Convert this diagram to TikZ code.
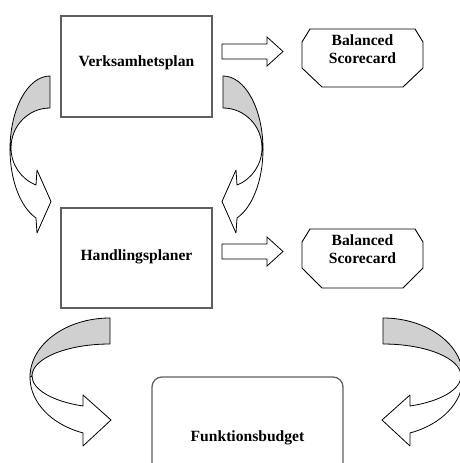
\documentclass[tikz,border=0pt]{standalone}
\usepackage{fontspec}
\setmainfont{Liberation Serif}
\definecolor{boxline}{RGB}{95,95,95}
\definecolor{backside}{RGB}{208,208,208}

% Curling ribbon arrow, tail at the upper right, head pointing right below it
\newcommand{\curlupper}{%
  \draw[band, fill=backside] (50,76)
    arc[start angle=270, end angle=180, x radius=40, y radius=73.3]
    -- (11,147.8)
    arc[start angle=180, end angle=270, x radius=39, y radius=39.8] -- cycle;
  \draw[band, fill=white] (10,149.3)
    arc[start angle=180, end angle=110.5, x radius=40, y radius=73.3]
    -- (37,233) -- (51,201.5) -- (37,170) -- (36,185)
    arc[start angle=111.04, end angle=180, x radius=39, y radius=39.8] -- cycle;
}
\newcommand{\curllower}{%
  \draw[band, fill=backside] (110,318)
    arc[start angle=270, end angle=180, x radius=80, y radius=59.2]
    -- (32,376)
    arc[start angle=180, end angle=270, x radius=78, y radius=32] -- cycle;
  \draw[band, fill=white] (30,377.2)
    arc[start angle=180, end angle=109.7, x radius=80, y radius=59.2]
    -- (83,446) -- (111,420) -- (83,395) -- (83,406)
    arc[start angle=110.25, end angle=180, x radius=78, y radius=32] -- cycle;
}

\begin{document}
\begin{tikzpicture}[x=1pt, y=-1pt,
  box/.style={draw=boxline, line width=1.3pt, inner sep=0pt},
  txt/.style={font=\fontsize{15.6}{18.3}\selectfont\bfseries, align=center, inner sep=0pt},
  octo/.style={draw=black, line width=0.9pt},
  band/.style={draw=black, line width=0.8pt, line join=round},
  blockarrow/.style={draw=black, line width=0.8pt, fill=white, line join=miter}]

\useasboundingbox (0,0) rectangle (460,463);
\clip (0,0) rectangle (460,463);

% plan boxes
\node[box, minimum width=151pt, minimum height=101pt] (vp) at (136.5,66.5) {};
\node[txt] (vptext) at (136.5,63) {Verksamhetsplan};
\node[box, minimum width=151pt, minimum height=100pt] (hp) at (136.5,258) {};
\node[txt] (hptext) at (136.5,256.5) {Handlingsplaner};

% budget box, running past the lower edge
\draw[box, rounded corners=10pt] (152,377) rectangle (343,520);
\node[txt] (fb) at (247.5,437.5) {Funktionsbudget};

% scorecard octagons
\draw[octo] (310,29) -- (415,29) -- (423,42) -- (423,68) -- (403,87)
  -- (322,87) -- (302,68) -- (302,42) -- cycle;
\node[txt] (bs1) at (362.5,49) {Balanced\\Scorecard};
\draw[octo] (310,229) -- (415,229) -- (423,242) -- (423,268) -- (403,288)
  -- (322,288) -- (302,268) -- (302,242) -- cycle;
\node[txt] (bs2) at (362.5,249) {Balanced\\Scorecard};

% straight block arrows
\draw[blockarrow] (222,44) -- (267,44) -- (267,37) -- (283,51.5) -- (267,66)
  -- (267,59) -- (222,59) -- cycle;
\draw[blockarrow] (222,244) -- (267,244) -- (267,237) -- (283,251.5) -- (267,266)
  -- (267,259) -- (222,259) -- cycle;

% curled arrows between the plan levels
\curlupper
\begin{scope}[shift={(273,0)}, xscale=-1]
  \curlupper
\end{scope}

% curled arrows down to the budget
\curllower
\begin{scope}[shift={(493,0)}, xscale=-1]
  \curllower
\end{scope}

\end{tikzpicture}
\end{document}
